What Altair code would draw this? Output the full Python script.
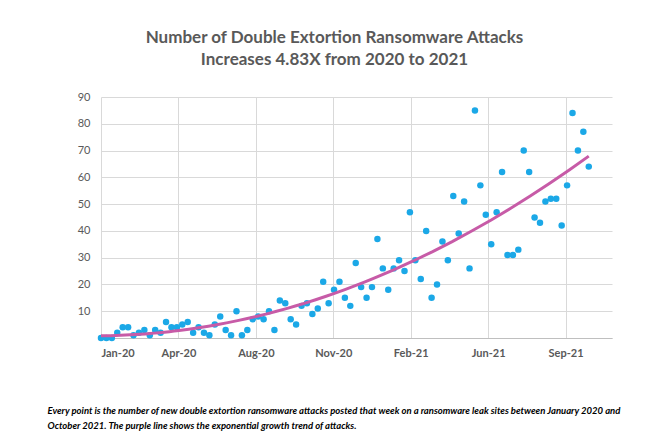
import altair as alt
import pandas as pd

# Weekly counts of new double-extortion attacks (Jan 2020 - Sep/Oct 2021)
weekly_attacks = [
    0, 0, 0, 2, 4, 4, 1, 2, 3, 1,
    3, 2, 6, 4, 4, 5, 6, 2, 4, 2,
    1, 5, 8, 3, 1, 10, 1, 3, 7, 8,
    7, 10, 3, 14, 13, 7, 5, 12, 13, 9,
    11, 21, 13, 18, 21, 15, 12, 28, 19, 15,
    19, 37, 26, 18, 26, 29, 25, 47, 29, 22,
    40, 15, 20, 36, 29, 53, 39, 51, 26, 85,
    57, 46, 35, 47, 62, 31, 31, 33, 70, 62,
    45, 43, 51, 52, 52, 42, 57, 84, 70, 77,
    64,
]
tick_labels = ["Jan-20", "Apr-20", "Aug-20", "Nov-20", "Feb-21", "Jun-21", "Sep-21"]
tick_days = [0, 100, 200, 300, 400, 500, 600]
y_ticks = [0, 10, 20, 30, 40, 50, 60, 70, 80, 90]

title_lines = ["Number of Double Extortion Ransomware Attacks",
               "Increases 4.83X from 2020 to 2021"]
footnote_lines = [
    "Every point is the number of new double extortion ransomware attacks posted that week on a ransomware leak sites between January 2020 and",
    "October 2021. The purple line shows the exponential growth trend of attacks.",
]

df = pd.DataFrame({
    "day": [7 * i for i in range(len(weekly_attacks))],
    "attacks": weekly_attacks,
})

FONT = "Lato"
label_expr = "[" + ",".join("'" + t + "'" for t in tick_labels) + "][round(datum.value / 100)]"

x = alt.X(
    "day:Q",
    scale=alt.Scale(domain=[0, 660], nice=False, zero=False),
    axis=alt.Axis(
        values=tick_days, labelExpr=label_expr, grid=True, gridColor="#D9D9D9",
        domainColor="#BFBFBF", ticks=False, labelFont=FONT, labelFontSize=11,
        labelFontWeight="bold", labelColor="#595959", labelPadding=9,
        title=footnote_lines, titleFont=FONT, titleFontSize=9.5,
        titleFontStyle="italic", titleFontWeight="bold", titleColor="#000000",
        titleAlign="left", titleAnchor="start", titleX=-54, titleY=75,
        titleBaseline="alphabetic", titleLineHeight=15,
    ),
)
y = alt.Y(
    "attacks:Q",
    scale=alt.Scale(domain=[0, 90], nice=False),
    axis=alt.Axis(
        values=y_ticks, labelExpr="datum.value == 0 ? '' : datum.label",
        domain=False, ticks=False, gridColor="#D9D9D9", labelFont=FONT,
        labelFontSize=11, labelColor="#595959", labelPadding=11, title=None,
    ),
)

points = alt.Chart(df).mark_circle(size=42, color="#1BA8E7", opacity=1).encode(x=x, y=y)
trend = (
    alt.Chart(df)
    .transform_regression("day", "attacks", method="poly", order=2)
    .mark_line(color="#C75BA7", strokeWidth=3)
    .encode(x=x, y=y)
)

chart = (
    alt.layer(points, trend)
    .properties(
        width=511, height=241,
        autosize="none",
        padding={"left": 93, "top": 89, "right": 30, "bottom": 100},
        title=alt.TitleParams(
            text=title_lines, font=FONT, fontSize=17, fontWeight="bold",
            color="#595959", anchor="middle", frame="group", dx=-22,
            offset=22, lineHeight=22,
        ),
    )
    .configure_view(stroke=None)
)

chart.save("out.html", embed_options={"renderer": "svg", "actions": False})
